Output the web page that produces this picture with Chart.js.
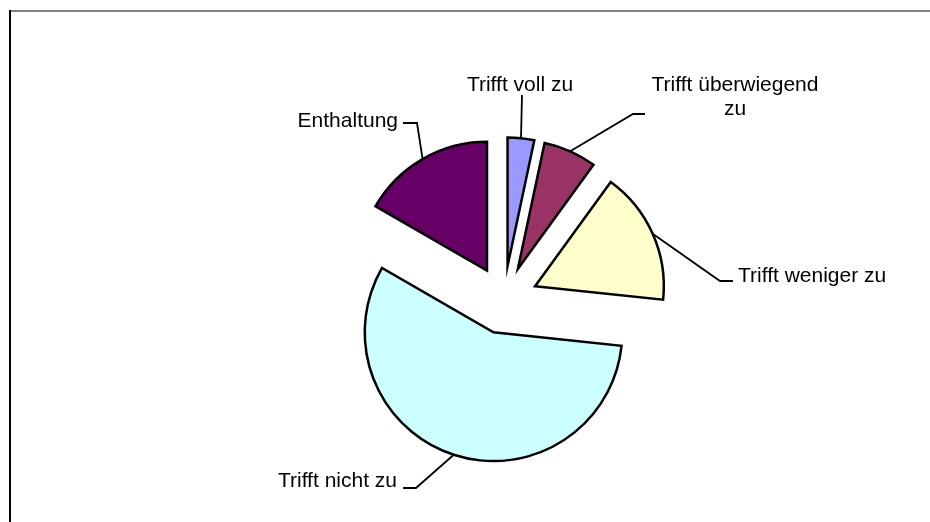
<!DOCTYPE html>
<html>
<head>
<meta charset="utf-8">
<script src="https://cdn.jsdelivr.net/npm/chart.js@4/dist/chart.umd.min.js"></script>
<style>
  html, body { margin: 0; padding: 0; background: #fff; }
  #wrap { width: 930px; height: 522px; position: relative; }
</style>
</head>
<body>
<div id="wrap"><canvas id="chart"></canvas></div>
<script>
const categories = ["Trifft voll zu", "Trifft überwiegend zu", "Trifft weniger zu", "Trifft nicht zu", "Enthaltung"];
const counts = [1, 2, 5, 17, 5];
const sliceColors = ["#9999FF", "#993366", "#FFFFCC", "#CCFFFF", "#660066"];

// how far every slice is pulled out of the pie (px)
const EXPLODE = 34;

// label placement, relative to the pie centre: elbow of the leader line,
// horizontal tail, text anchor and alignment
const labelLayout = [
  { ex: 18, ey: -205, tail: 0, tx: 16, ty: -209, align: "center" },
  { ex: 129, ey: -186, tail: 12, tx: 231, ty: -209, align: "center", maxWidth: 180 },
  { ex: 216, ey: -19, tail: 13, tx: 234, ty: -18, align: "left" },
  { ex: -88, ey: 188, tail: -13, tx: -107, ty: 187, align: "right" },
  { ex: -87, ey: -177, tail: -14, tx: -106, ty: -173, align: "right" }
];

const FONT = '21px "Liberation Sans", Arial, sans-serif';

const framePlugin = {
  id: "frame",
  beforeDraw(chart) {
    const ctx = chart.ctx;
    ctx.save();
    ctx.fillStyle = "#808080";
    ctx.fillRect(9, 10, chart.width - 9, 2);
    ctx.fillStyle = "#000";
    ctx.fillRect(9, 10, 2, chart.height - 10);
    ctx.restore();
  }
};

// draw each arc pulled out along its middle angle (Excel style explosion)
const explodePlugin = {
  id: "explode",
  beforeDatasetDraw(chart, args) {
    const ctx = chart.ctx;
    args.meta.data.forEach(arc => {
      const mid = (arc.startAngle + arc.endAngle) / 2;
      ctx.save();
      ctx.translate(Math.cos(mid) * EXPLODE, Math.sin(mid) * EXPLODE);
      arc.draw(ctx);
      ctx.restore();
    });
    return false;
  }
};

function wrapWords(ctx, text, maxWidth) {
  if (!maxWidth) return [text];
  const words = text.split(" ");
  const lines = [];
  let cur = "";
  words.forEach(w => {
    const test = cur ? cur + " " + w : w;
    if (ctx.measureText(test).width > maxWidth && cur) {
      lines.push(cur);
      cur = w;
    } else {
      cur = test;
    }
  });
  if (cur) lines.push(cur);
  return lines;
}

const labelPlugin = {
  id: "sliceLabels",
  afterDatasetsDraw(chart) {
    const ctx = chart.ctx;
    const meta = chart.getDatasetMeta(0);
    ctx.save();
    ctx.font = FONT;
    ctx.fillStyle = "#000";
    ctx.strokeStyle = "#000";
    ctx.lineWidth = 1.8;
    meta.data.forEach((arc, i) => {
      const lay = labelLayout[i];
      const mid = (arc.startAngle + arc.endAngle) / 2;
      const r = arc.outerRadius + EXPLODE;
      const ax = arc.x + Math.cos(mid) * r;
      const ay = arc.y + Math.sin(mid) * r;
      const ex = arc.x + lay.ex;
      const ey = arc.y + lay.ey;
      ctx.beginPath();
      ctx.moveTo(ax, ay);
      ctx.lineTo(ex, ey);
      if (lay.tail) ctx.lineTo(ex + lay.tail, ey);
      ctx.stroke();

      ctx.textAlign = lay.align;
      ctx.textBaseline = "alphabetic";
      const lines = wrapWords(ctx, chart.data.labels[i], lay.maxWidth);
      lines.forEach((ln, k) => {
        ctx.fillText(ln, arc.x + lay.tx, arc.y + lay.ty + k * 24);
      });
    });
    ctx.restore();
  }
};

new Chart(document.getElementById("chart"), {
  type: "pie",
  data: {
    labels: categories,
    datasets: [{
      data: counts,
      backgroundColor: sliceColors,
      borderColor: "#000",
      borderWidth: 2.5,
      borderJoinStyle: "miter",
      offset: 0,
      hoverOffset: 0
    }]
  },
  options: {
    responsive: true,
    maintainAspectRatio: false,
    animation: false,
    events: [],
    layout: { padding: { top: 170, bottom: 92, left: 120, right: 42 } },
    plugins: {
      legend: { display: false },
      tooltip: { enabled: false }
    }
  },
  plugins: [framePlugin, explodePlugin, labelPlugin]
});
</script>
</body>
</html>
